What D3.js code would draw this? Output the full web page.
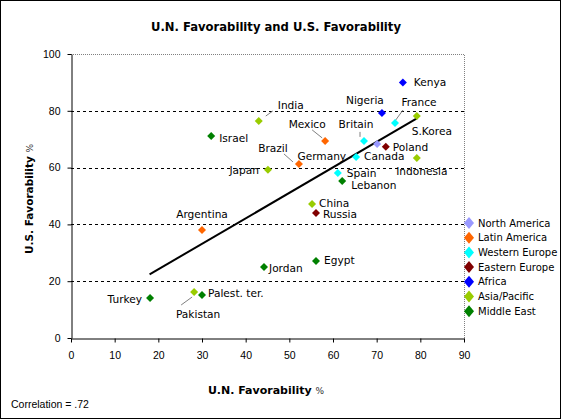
<!DOCTYPE html>
<html>
<head>
<meta charset="utf-8">
<script src="https://cdn.jsdelivr.net/npm/d3@7"></script>
<style>
body{margin:0;background:#fff}
svg{display:block}
</style>
</head>
<body>
<svg></svg>
<script>
// values
var countries = ["Kenya","Nigeria","France","S.Korea","Poland","Indonesia","Britain","Canada","Germany","Mexico","Brazil","Spain","Lebanon","China","Russia","Egypt","Jordan","Argentina","Turkey","Palest. ter.","Pakistan","Israel","India","Japan"]
var unFav = [76,71.2,74.2,79.2,72.1,79.2,67.1,70.1,65.3,58.2,52.2,61.1,62.1,55.2,56.1,56.1,44.2,30,18.1,30,28.2,32.1,43,45.1]
var usFav = [90,79.2,75.7,78.2,67.3,63.4,69.4,68.3,63.7,69.4,61.3,58.1,55.3,47.2,44,27.1,25,38,14.1,15.1,16.2,71.1,76.4,59.2]
var regionOf = ["Africa","Africa","Western Europe","Asia/Pacific","Eastern Europe","Asia/Pacific","Western Europe","North America","Western Europe","Latin America","Latin America","Western Europe","Middle East","Asia/Pacific","Eastern Europe","Middle East","Middle East","Latin America","Middle East","Middle East","Asia/Pacific","Middle East","Asia/Pacific","Asia/Pacific"]
var regions = ["North America","Latin America","Western Europe","Eastern Europe","Africa","Asia/Pacific","Middle East"]
var regionColors = ["#9999ff","#ff6600","#00ffff","#800000","#0000ff","#99cc00","#008000"]
var xTicks = [0,10,20,30,40,50,60,70,80,90]
var yTicks = [0,20,40,60,80,100]
var trendX = [18,79.2]
var trendY = [22.4,77.3]

// label placement (pixels from the point), leader lines where the original has them
var labelPos = {
  "Kenya":{dx:11,dy:0},
  "Nigeria":{dx:-17,dy:-13,a:"middle"},
  "France":{dx:24,dy:-21,a:"middle",lead:[0,-2,8,-13]},
  "S.Korea":{dx:15,dy:15,a:"middle"},
  "Poland":{dx:7,dy:0},
  "Indonesia":{dx:5,dy:13,a:"middle"},
  "Britain":{dx:-8,dy:-17,a:"middle",lead:[-4,-9,-4,-4]},
  "Canada":{dx:-13,dy:12},
  "Germany":{dx:-10,dy:-1,a:"end"},
  "Mexico":{dx:-18,dy:-17,a:"middle",lead:[-13,-11,-3,-3]},
  "Brazil":{dx:-26,dy:-16,a:"middle",lead:[-15,-10,-6,-2]},
  "Spain":{dx:9,dy:0},
  "Lebanon":{dx:9,dy:4},
  "China":{dx:7,dy:-1},
  "Russia":{dx:7,dy:1},
  "Egypt":{dx:8,dy:-1},
  "Jordan":{dx:5,dy:1},
  "Argentina":{dx:0,dy:-16,a:"middle"},
  "Turkey":{dx:-8,dy:1,a:"end"},
  "Palest. ter.":{dx:6,dy:-2},
  "Pakistan":{dx:4,dy:22,a:"middle",lead:[-13,13,-2,5]},
  "Israel":{dx:8,dy:2},
  "India":{dx:19,dy:-16,lead:[7,-5,14,-10]},
  "Japan":{dx:-9,dy:0,a:"end"}
}

var W = 561, H = 419
var svg = d3.select("svg").attr("width",W).attr("height",H)

var x = d3.scaleLinear().domain([0,90]).range([71,464])
var y = d3.scaleLinear().domain([0,100]).range([338,54])
var color = d3.scaleOrdinal().domain(regions).range(regionColors)

svg.append("rect")
  .attr("x",0.5).attr("y",0.5).attr("width",W-1).attr("height",H-1)
  .attr("fill","#fff").attr("stroke","#000")

// plot area border (top / right dotted grey)
svg.append("path")
  .attr("d","M"+x(0)+","+(y(100)+0.5)+"H"+(x(90)+0.5)+"V"+y(0))
  .attr("fill","none").attr("stroke","#808080").attr("stroke-dasharray","1,1")

// dashed gridlines
svg.append("g").selectAll("line")
  .data(yTicks.filter(function(d){return d>0 && d<100}))
  .enter().append("line")
  .attr("x1",x(0)).attr("x2",x(90))
  .attr("y1",function(d){return Math.round(y(d))+0.5})
  .attr("y2",function(d){return Math.round(y(d))+0.5})
  .attr("stroke","#000").attr("stroke-dasharray","3,3")

var yAxis = svg.append("g")
  .attr("transform","translate("+(x(0)+0.5)+",0)")
  .call(d3.axisLeft(y).tickValues(yTicks).tickSize(4).tickSizeOuter(0).tickPadding(7))
var xAxis = svg.append("g")
  .attr("transform","translate(0,"+(y(0)+0.5)+")")
  .call(d3.axisBottom(x).tickValues(xTicks).tickSize(4).tickSizeOuter(0).tickPadding(9))
svg.selectAll(".tick text")
  .attr("font-family","Liberation Sans, Arial, sans-serif")
  .attr("font-size",10.5).attr("fill","#000")
svg.selectAll(".domain, .tick line").attr("stroke","#000")

// trend line
svg.append("line")
  .attr("x1",x(trendX[0])).attr("y1",y(trendY[0]))
  .attr("x2",x(trendX[1])).attr("y2",y(trendY[1]))
  .attr("stroke","#000").attr("stroke-width",2)

var pts = countries.map(function(c,i){
  return {name:c, ux:unFav[i], us:usFav[i], region:regionOf[i]}
})

var diamond = function(r,h){ return "M0,"+(-h)+"L"+r+",0L0,"+h+"L"+(-r)+",0Z" }

var g = svg.append("g").selectAll("g")
  .data(pts).enter().append("g")
  .attr("transform",function(d){return "translate("+x(d.ux)+","+y(d.us)+")"})

g.filter(function(d){return labelPos[d.name].lead})
  .append("line")
  .attr("x1",function(d){return labelPos[d.name].lead[0]})
  .attr("y1",function(d){return labelPos[d.name].lead[1]})
  .attr("x2",function(d){return labelPos[d.name].lead[2]})
  .attr("y2",function(d){return labelPos[d.name].lead[3]})
  .attr("stroke","#808080")

g.append("path")
  .attr("d",diamond(4,4))
  .attr("fill",function(d){return color(d.region)})

g.append("text")
  .attr("x",function(d){return labelPos[d.name].dx})
  .attr("y",function(d){return labelPos[d.name].dy})
  .attr("dy","0.35em")
  .attr("text-anchor",function(d){return labelPos[d.name].a || "start"})
  .attr("font-family","DejaVu Sans, Verdana, sans-serif")
  .attr("font-size",10.6)
  .text(function(d){return d.name})

// legend
var leg = svg.append("g").selectAll("g")
  .data(regions).enter().append("g")
  .attr("transform",function(d,i){return "translate(469,"+(223+i*14.7)+")"})
leg.append("path")
  .attr("d",diamond(5,6))
  .attr("fill",function(d){return color(d)})
leg.append("text")
  .attr("x",9).attr("dy","0.35em")
  .attr("font-family","DejaVu Sans, Verdana, sans-serif")
  .attr("font-size",10)
  .text(function(d){return d})

// titles
svg.append("text")
  .attr("x",276).attr("y",27).attr("dy","0.35em")
  .attr("text-anchor","middle")
  .attr("font-family","DejaVu Sans, Verdana, sans-serif")
  .attr("font-size",11.6).attr("font-weight","bold")
  .text("U.N. Favorability and U.S. Favorability")

var xl = svg.append("text")
  .attr("x",266).attr("y",388).attr("dy","0.35em")
  .attr("text-anchor","middle")
  .attr("font-family","DejaVu Sans, Verdana, sans-serif")
xl.append("tspan").attr("font-size",11).attr("font-weight","bold").text("U.N. Favorability ")
xl.append("tspan").attr("font-size",9).attr("fill","#333").text("%")

var yl = svg.append("text")
  .attr("transform","translate(27,199) rotate(-90)")
  .attr("dy","0.35em")
  .attr("text-anchor","middle")
  .attr("font-family","DejaVu Sans, Verdana, sans-serif")
yl.append("tspan").attr("font-size",10.5).attr("font-weight","bold").text("U.S. Favorability ")
yl.append("tspan").attr("font-size",9).attr("fill","#333").text("%")

svg.append("text")
  .attr("x",11).attr("y",404).attr("dy","0.35em")
  .attr("font-family","Liberation Sans, Arial, sans-serif")
  .attr("font-size",10.5)
  .text("Correlation = .72")
</script>
</body>
</html>
